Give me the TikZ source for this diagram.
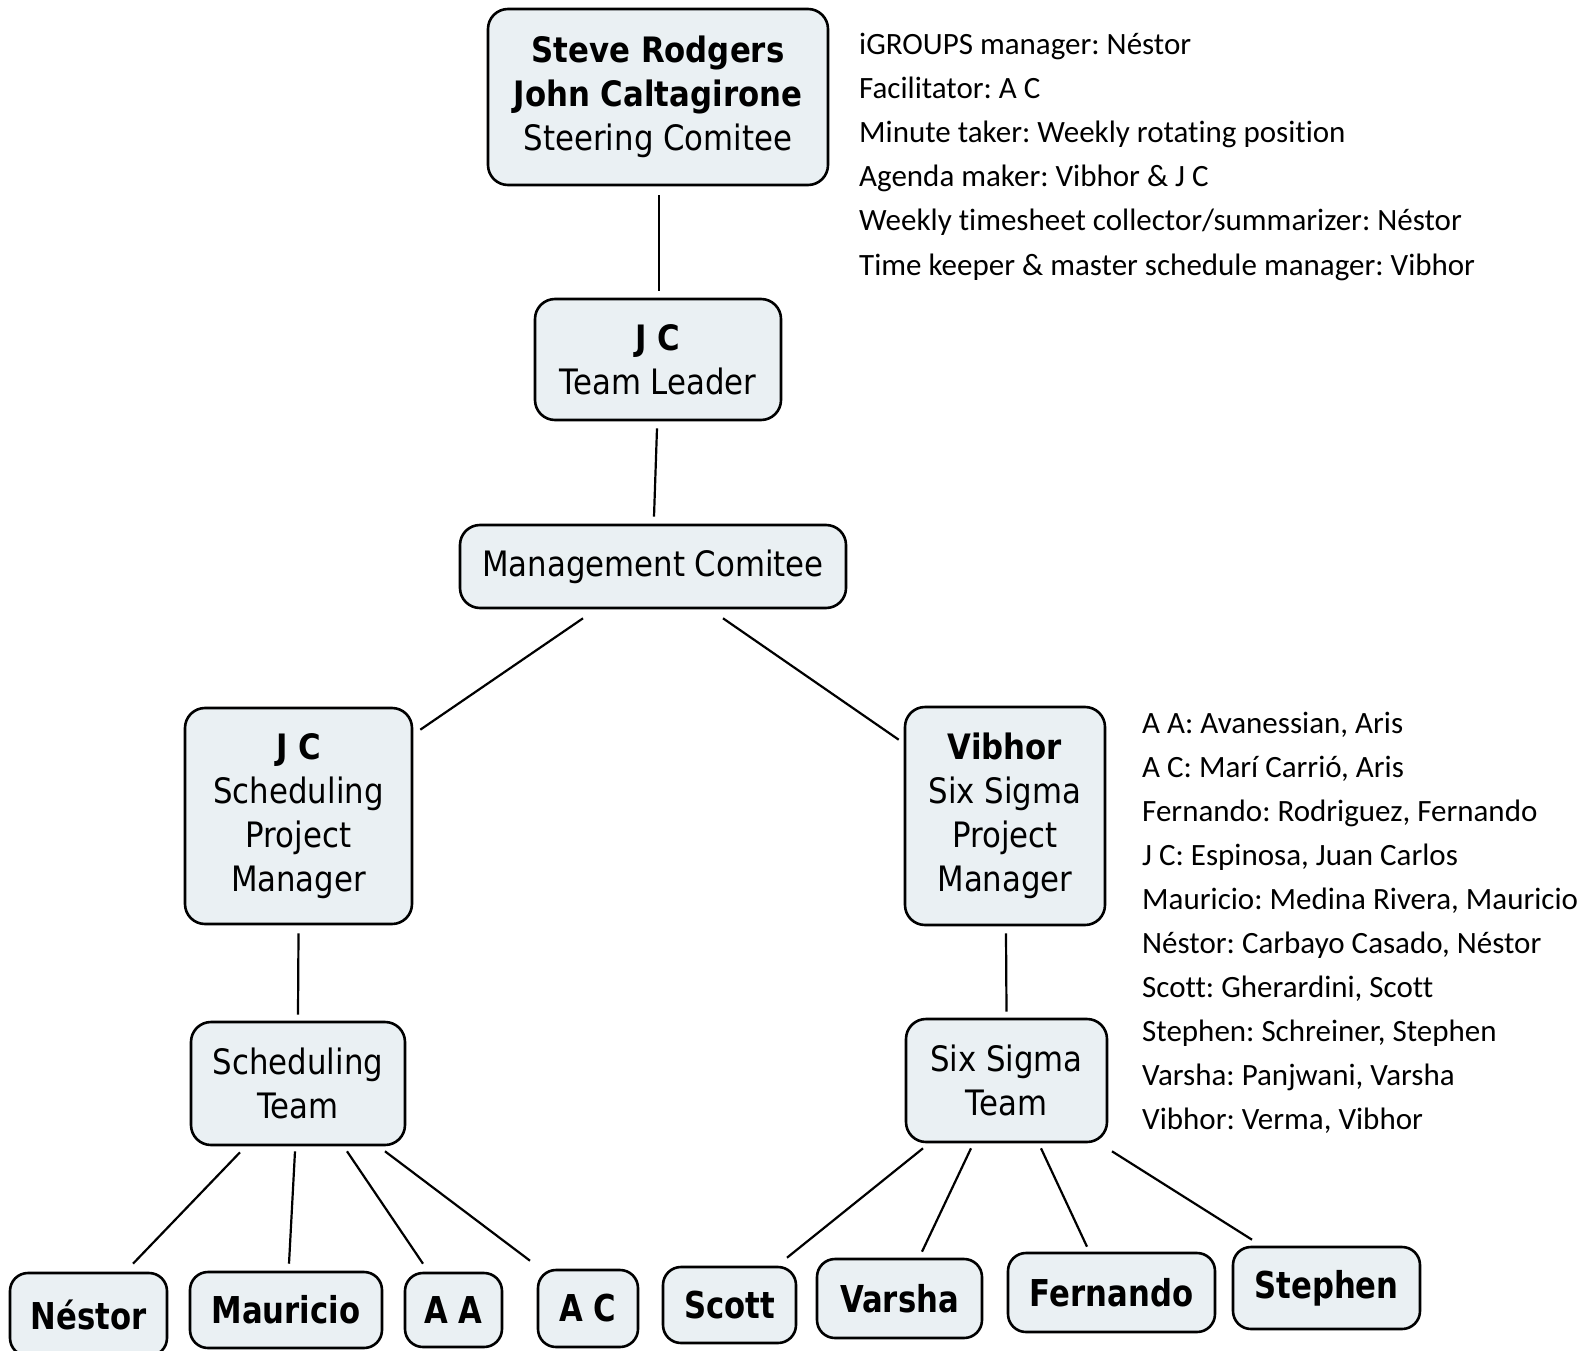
\documentclass[tikz,border=0pt]{standalone}
\usepackage{fontspec}
\usetikzlibrary{calc}
\newfontfamily\boxfont{DejaVu Sans}[FakeStretch=0.88]
\newfontfamily\leaffont{DejaVu Sans}[FakeStretch=0.83]
\newfontfamily\listfont{Carlito}[Ligatures=NoCommon]
\definecolor{boxfill}{RGB}{234,240,243}

\begin{document}
\begin{tikzpicture}[
        x=1pt, y=-1pt,
        unit/.style={rectangle, draw, line width=2.6pt, fill=boxfill, rounded corners=20pt, align=center, inner sep=0pt, font=\boxfont\fontsize{35}{44}\selectfont},
        member/.style={rectangle, draw, line width=2.6pt, fill=boxfill, rounded corners=18pt, inner sep=0pt, font=\leaffont\bfseries\fontsize{37}{44}\selectfont},
        link/.style={line width=2.2pt},
        roles/.style={anchor=base west, inner sep=0pt, font=\listfont\frenchspacing\fontsize{31}{44}\selectfont}
    ]
        \useasboundingbox (0,0) rectangle (1585,1351);

        % Top of the chart
        \node[unit, minimum width=340pt, minimum height=176pt] (steering) at (658,97) {{\bfseries Steve Rodgers}\\{\bfseries John Caltagirone}\\Steering Comitee};
        \node[unit, minimum width=246pt, minimum height=121pt] (leader) at (658,359.5) {{\bfseries J C}\\Team Leader};
        \node[unit, minimum width=386pt, minimum height=83pt] (mgmt) at (653,566.5) {Management Comitee};
        \draw[link] ($(steering.south)+(1,9)$) -- ($(leader.north)+(1,-7)$);
        \draw[link] ($(leader.south)+(-1,7)$) -- ($(mgmt.north)+(1,-7)$);

        % Project managers and teams
        \node[unit, minimum width=227pt, minimum height=216pt] (schedpm) at (298.5,816) {{\bfseries J C}\\Scheduling\\Project\\Manager};
        \node[unit, minimum width=200pt, minimum height=218pt] (sixpm) at (1005,816) {{\bfseries Vibhor}\\Six Sigma\\Project\\Manager};
        \node[unit, minimum width=214pt, minimum height=123pt] (schedteam) at (298,1083.5) {Scheduling\\Team};
        \node[unit, minimum width=201pt, minimum height=123pt] (sixteam) at (1006.5,1080.5) {Six Sigma\\Team};
        \draw[link] ($(mgmt.south)+(-70,9)$) -- ($(schedpm.north east)+(7,23)$);
        \draw[link] ($(mgmt.south)+(70,9)$) -- ($(sixpm.north west)+(-5,34)$);
        \draw[link] ($(schedpm.south)+(0,8)$) -- ($(schedteam.north)+(0,-6)$);
        \draw[link] ($(sixpm.south)+(1,7)$) -- ($(sixteam.north)+(0,-6)$);

        % Scheduling team members
        \node[member, minimum width=157pt, minimum height=83pt] (nestor) at (88.5,1314.5) {Néstor};
        \node[member, minimum width=192pt, minimum height=76pt] (mauricio) at (286,1310) {Mauricio};
        \node[member, minimum width=97pt, minimum height=74pt] (aa) at (453.5,1310) {A A};
        \node[member, minimum width=100pt, minimum height=77pt] (ac) at (588,1308.5) {A C};
        \draw[link] ($(schedteam.south)+(-58,6)$) -- ($(nestor.north)+(44.5,-8)$);
        \draw[link] ($(schedteam.south)+(-3,5)$) -- ($(mauricio.north)+(3,-7)$);
        \draw[link] ($(schedteam.south)+(49,5)$) -- ($(aa.north)+(-30.5,-8)$);
        \draw[link] ($(schedteam.south)+(87,5)$) -- ($(ac.north)+(-58,-8)$);

        % Six Sigma team members
        \node[member, minimum width=133pt, minimum height=76pt] (scott) at (729.5,1305) {Scott};
        \node[member, minimum width=165pt, minimum height=79pt] (varsha) at (899.5,1298.5) {Varsha};
        \node[member, minimum width=207pt, minimum height=79pt] (fernando) at (1111.5,1292.5) {Fernando};
        \node[member, minimum width=187pt, minimum height=82pt] (stephen) at (1326.5,1288) {Stephen};
        \draw[link] ($(sixteam.south)+(-83.5,5)$) -- ($(scott.north)+(57.5,-8)$);
        \draw[link] ($(sixteam.south)+(-35.5,5)$) -- ($(varsha.north)+(22.5,-6)$);
        \draw[link] ($(sixteam.south)+(34.5,5)$) -- ($(fernando.north)+(-24.5,-5)$);
        \draw[link] ($(sixteam.south)+(105.5,8)$) -- ($(stephen.north)+(-74.5,-6)$);

        % Roles
        \foreach \txt [count=\i] in {iGROUPS manager: Néstor, Facilitator: A C, Minute taker: Weekly rotating position, Agenda maker: Vibhor \& J C, Weekly timesheet collector/summarizer: Néstor, Time keeper \& master schedule manager: Vibhor}
            \node[roles] (role\i) at (859,{55+44*(\i-1)}) {\txt};

        % Full names
        \foreach \txt [count=\i] in {{A A: Avanessian, Aris}, {A C: Marí Carrió, Aris}, {Fernando: Rodriguez, Fernando}, {J C: Espinosa, Juan Carlos}, {Mauricio: Medina Rivera, Mauricio}, {Néstor: Carbayo Casado, Néstor}, {Scott: Gherardini, Scott}, {Stephen: Schreiner, Stephen}, {Varsha: Panjwani, Varsha}, {Vibhor: Verma, Vibhor}}
            \node[roles] (name\i) at (1142,{733+44.1*(\i-1)}) {\txt};

    \end{tikzpicture}
\end{document}
